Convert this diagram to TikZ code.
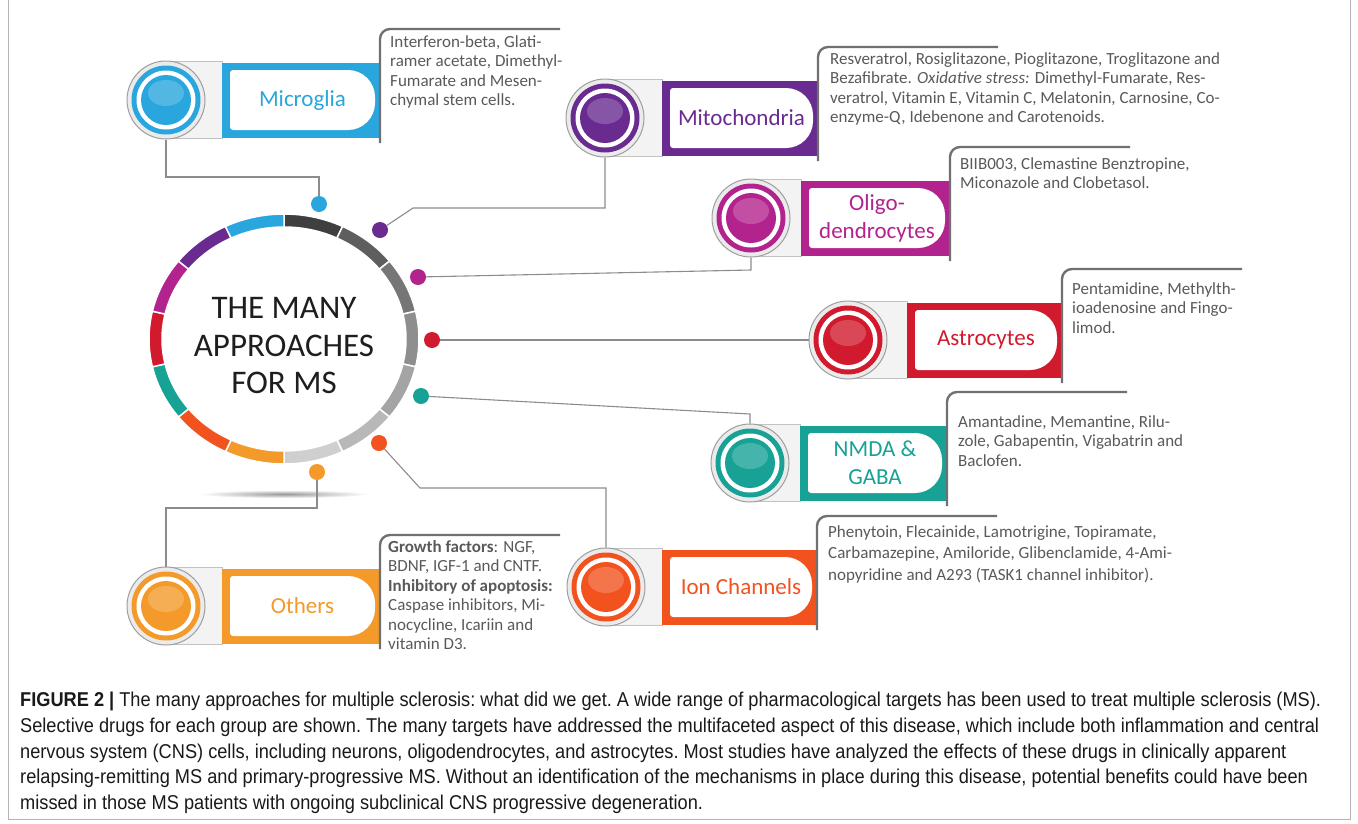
\documentclass[tikz,border=0pt]{standalone}
\usepackage{fontspec}
\setmainfont{Carlito}
\newfontfamily\capfont[FakeStretch=0.91]{Liberation Sans}

\definecolor{msblue}{HTML}{29A6DE}
\definecolor{mspurple}{HTML}{6A2B90}
\definecolor{msmagenta}{HTML}{B3238E}
\definecolor{msred}{HTML}{D11A2E}
\definecolor{msteal}{HTML}{17A295}
\definecolor{msorange}{HTML}{F2521E}
\definecolor{msamber}{HTML}{F39A2A}
\definecolor{ringa}{HTML}{3F3F3F}
\definecolor{ringb}{HTML}{5E5E5E}
\definecolor{ringc}{HTML}{767676}
\definecolor{ringd}{HTML}{8E8E8E}
\definecolor{ringe}{HTML}{A4A4A4}
\definecolor{ringf}{HTML}{B8B8B8}
\definecolor{ringg}{HTML}{CFCFCF}
\definecolor{knobgrey}{HTML}{EBEBEB}
\definecolor{knobedge}{HTML}{9E9E9E}
\definecolor{barfill}{HTML}{F3F3F3}
\definecolor{baredge}{HTML}{C2C2C2}
\definecolor{wiregrey}{HTML}{8C8C8C}
\definecolor{inkgrey}{HTML}{595959}
\definecolor{titleink}{HTML}{1E1E1E}
\definecolor{framegrey}{HTML}{B4B4B4}
\definecolor{bracketgrey}{HTML}{707070}

% knob + coloured tab + bracket, drawn around a centre
% #1 name, #2 centre, #3 colour, #4/#5 tab left/right, #6 label
\newcommand{\approachbutton}[6]{%
  \begin{scope}[shift={#2}]
    \filldraw[bar] (0,-38.5) -- (#4,-38.5) -- (#4,38.5) -- (0,38.5);
    \node[knob] (#1) at (0,0) {};
    \fill[#3] (0,0) circle (34.5);
    \fill[white] (0,0) circle (29.5);
    \fill[#3] (0,0) circle (25);
    \fill[white, opacity=.2] (0,-7) ellipse (18 and 13);
    \fill[#3] (#4,-37.5) rectangle (#5,37.5);
    \fill[white, rounded corners=3] (#4+8,30) -- (#4+8,-30)
      [rounded corners=27] -- (#5-5,-30) -- (#5-5,30) [rounded corners=3] -- cycle;
    \node[lbl, text=#3] (#1-lbl) at ({(#4+#5+3)/2},0) {#6};
    \draw[bracket] (#5,43) |- ({#5+180},-71);
  \end{scope}}

\begin{document}
\begin{tikzpicture}[x=1pt, y=-1pt,
  knob/.style={circle, minimum size=78, inner sep=0, fill=knobgrey, draw=knobedge, line width=1},
  bar/.style={fill=barfill, draw=baredge, line width=.8},
  lbl/.style={align=center, inner sep=0, font=\fontsize{23}{28}\selectfont},
  bracket/.style={draw=bracketgrey, line width=2.4, rounded corners=10},
  drugs/.style={anchor=north west, align=left, inner sep=0, text=inkgrey, font=\fontsize{17}{19.5}\selectfont},
  dot/.style={circle, minimum size=16, inner sep=0},
  wire/.style={draw=wiregrey, line width=1.1}]
  \useasboundingbox (0,0) rectangle (1358,823);
  \draw[framegrey, line width=1] (8,0) |- (1350,819) -- (1350,0);

  % ring of fourteen segments
  \begin{scope}[shift={(284,339)}]
    \foreach \c [count=\i from 0] in {ringa,ringb,ringc,ringd,ringe,ringf,ringg,msamber,msorange,msteal,msred,msmagenta,mspurple,msblue}
      \filldraw[fill=\c, draw=white, line width=1.5]
        ({-90+\i*360/14}:135 and 125) arc[start angle={-90+\i*360/14}, delta angle={360/14}, x radius=135, y radius=125]
        -- ({-90+(\i+1)*360/14}:122 and 112) arc[start angle={-90+(\i+1)*360/14}, delta angle={-360/14}, x radius=122, y radius=112] -- cycle;
  \end{scope}
  \shade[inner color=black!40, outer color=white] (284,494) ellipse (85 and 4);
  \node[align=center, inner sep=0, text=titleink, font=\fontsize{33}{37.5}\selectfont] (core) at (284,346) {THE MANY\\APPROACHES\\FOR MS};

  % dots round the ring
  \node[dot, fill=msblue] (dmicro) at (319,204) {};
  \node[dot, fill=mspurple] (dmito) at (380,230) {};
  \node[dot, fill=msmagenta] (doligo) at (418,277) {};
  \node[dot, fill=msred] (dastro) at (432,340) {};
  \node[dot, fill=msteal] (dnmda) at (421,396) {};
  \node[dot, fill=msorange] (dion) at (379,443) {};
  \node[dot, fill=msamber] (dothers) at (317,472) {};

  \approachbutton{micro}{(166,100)}{msblue}{56}{214}{Microglia}
  \approachbutton{mito}{(605,118)}{mspurple}{57}{213}{Mitochondria}
  \approachbutton{oligo}{(751,218)}{msmagenta}{50}{199}{Oligo-\\dendrocytes}
  \approachbutton{astro}{(848,340)}{msred}{59}{214}{Astrocytes}
  \approachbutton{nmda}{(750,463)}{msteal}{50}{197}{NMDA \&\\GABA}
  \approachbutton{ion}{(606,587)}{msorange}{56}{211}{Ion Channels}
  \approachbutton{others}{(166,606)}{msamber}{56}{214}{Others}

  \draw[wire] (micro.south) |- (319,177) -- (dmicro);
  \draw[wire] (mito.south) |- (413,208) -- (dmito);
  \draw[wire] (oligo.south) -- (751,270) -- (doligo);
  \draw[wire] (astro) -- (dastro);
  \draw[wire] (nmda.north) -- (750,414) -- (dnmda);
  \draw[wire] (ion.north) |- (420,488) -- (dion);
  \draw[wire] (others.north) |- (317,508) -- (dothers);

  \node[drugs] (micro-drugs) at (390,35) {Interferon-beta, Glati-\\ramer acetate, Dimethyl-\\Fumarate and Mesen-\\chymal stem cells.};
  \node[drugs] (mito-drugs) at (830,52) {Resveratrol, Rosiglitazone, Pioglitazone, Troglitazone and\\Bezafibrate. \textit{Oxidative stress:} Dimethyl-Fumarate, Res-\\veratrol, Vitamin E, Vitamin C, Melatonin, Carnosine, Co-\\enzyme-Q, Idebenone and Carotenoids.};
  \node[drugs] (oligo-drugs) at (960,157) {BIIB003, Clemastine Benztropine,\\Miconazole and Clobetasol.};
  \node[drugs] (astro-drugs) at (1072,282) {Pentamidine, Methylth-\\ioadenosine and Fingo-\\limod.};
  \node[drugs] (nmda-drugs) at (958,415) {Amantadine, Memantine, Rilu-\\zole, Gabapentin, Vigabatrin and\\Baclofen.};
  \node[drugs, font=\fontsize{17}{21.5}\selectfont] (ion-drugs) at (828,525) {Phenytoin, Flecainide, Lamotrigine, Topiramate,\\Carbamazepine, Amiloride, Glibenclamide, 4-Ami-\\nopyridine and A293 (TASK1 channel inhibitor).};
  \node[drugs] (others-drugs) at (388,540) {\textbf{Growth factors}: NGF,\\BDNF, IGF-1 and CNTF.\\\textbf{Inhibitory of apoptosis:}\\Caspase inhibitors, Mi-\\nocycline, Icariin and\\vitamin D3.};

  \node[anchor=north west, align=left, inner sep=0, font=\capfont\frenchspacing\fontsize{20}{25.75}\selectfont, text=black!90] (caption) at (20,692)
    {\textbf{FIGURE 2 |} The many approaches for multiple sclerosis: what did we get. A wide range of pharmacological targets has been used to treat multiple sclerosis (MS).\\
     Selective drugs for each group are shown. The many targets have addressed the multifaceted aspect of this disease, which include both inflammation and central\\
     nervous system (CNS) cells, including neurons, oligodendrocytes, and astrocytes. Most studies have analyzed the effects of these drugs in clinically apparent\\
     relapsing-remitting MS and primary-progressive MS. Without an identification of the mechanisms in place during this disease, potential benefits could have been\\
     missed in those MS patients with ongoing subclinical CNS progressive degeneration.};
\end{tikzpicture}
\end{document}
